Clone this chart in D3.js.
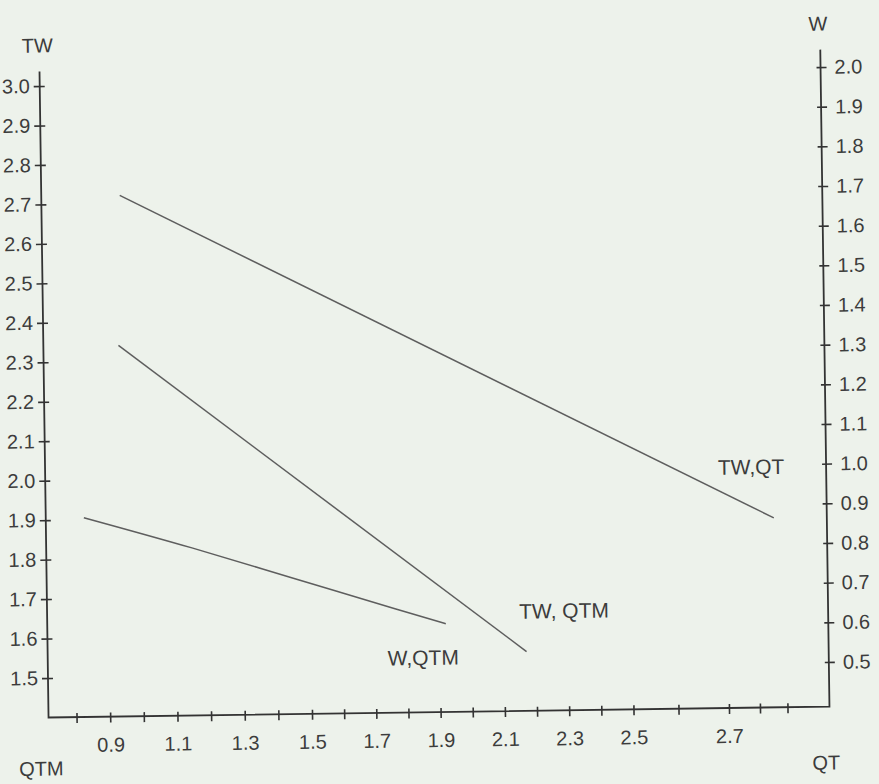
<!DOCTYPE html>
<html>
<head>
<meta charset="UTF-8">
<title>TW, W vs QT, QTM</title>
<style>
  html, body { margin: 0; padding: 0; background: #edf2eb; }
  svg { display: block; }
  text { font-family: "Liberation Sans", Arial, Helvetica, sans-serif; fill: #3c3c3c; }
</style>
</head>
<body>
<svg id="chart" width="879" height="784"></svg>
<script src="https://d3js.org/d3.v7.min.js"></script>
<script>
// bottom axis (QT / QTM) tick values and the ones that carry a label
const qtTicks = [0.8, 0.9, 1.0, 1.1, 1.2, 1.3, 1.4, 1.5, 1.6, 1.7, 1.8, 1.9, 2.0, 2.1, 2.2, 2.3, 2.4, 2.5, 2.6, 2.7, 2.8, 2.9];
const qtLabels = [0.9, 1.1, 1.3, 1.5, 1.7, 1.9, 2.1, 2.3, 2.5, 2.7];
// left axis TW, right axis W
const twTicks = [1.5, 1.6, 1.7, 1.8, 1.9, 2.0, 2.1, 2.2, 2.3, 2.4, 2.5, 2.6, 2.7, 2.8, 2.9, 3.0];
const wTicks = [0.5, 0.6, 0.7, 0.8, 0.9, 1.0, 1.1, 1.2, 1.3, 1.4, 1.5, 1.6, 1.7, 1.8, 1.9, 2.0];

// series
const twQtX = [0.95, 2.86];
const twQtY = [2.72, 1.88];
const twQtmX = [0.94, 2.17];
const twQtmY = [2.34, 1.55];
const wQtmX = [0.83, 1.15, 1.45, 1.76, 1.92];
const wQtmY = [0.89, 0.81, 0.73, 0.65, 0.61];

const svg = d3.select("#chart");
const left = 44, right = 825, bottom = 712;

// the drawing is a slightly tilted scan
const g = svg.append("g").attr("transform", "rotate(-0.8, 438, 390)");

// hand drawn axis: spacing is not quite even past 2.5
const x = d3.scaleLinear()
  .domain([0.8, 1.5, 2.5, 2.6, 2.7, 2.8, 2.9])
  .range([72, 307.5, 629, 674, 724.5, 755.5, 783]);
const yTW = d3.scaleLinear().domain([1.4, 3.0]).range([bottom, 80.5]);
const yW = d3.scaleLinear().domain([0.5, 2.0]).range([667.4, 72.4]);
const fmt = d3.format(".1f");

// frame
g.append("path")
  .attr("d", `M${left},66 L${left},${bottom} L${right},${bottom} L${right},55`)
  .attr("fill", "none")
  .attr("stroke", "#333")
  .attr("stroke-width", 1.8);

const xAxis = g.append("g")
  .attr("transform", `translate(0,${bottom})`)
  .call(d3.axisBottom(x).tickValues(qtTicks)
    .tickFormat(d => qtLabels.includes(d) ? fmt(d) : ""));
xAxis.selectAll(".tick line").attr("y1", -4).attr("y2", 6);
xAxis.selectAll(".tick text").attr("y", 35).attr("dy", 0);

const yAxisL = g.append("g")
  .attr("transform", `translate(${left},0)`)
  .call(d3.axisLeft(yTW).tickValues(twTicks).tickFormat(fmt));
yAxisL.selectAll(".tick line").attr("x1", -6).attr("x2", 5);
yAxisL.selectAll(".tick text").attr("x", -10);

const yAxisR = g.append("g")
  .attr("transform", `translate(${right},0)`)
  .call(d3.axisRight(yW).tickValues(wTicks).tickFormat(fmt));
yAxisR.selectAll(".tick line").attr("x1", -4).attr("x2", 6);
yAxisR.selectAll(".tick text").attr("x", 14);

g.selectAll(".domain").remove();
g.selectAll(".tick line").attr("stroke", "#333").attr("stroke-width", 1.6);
g.selectAll(".tick text")
  .attr("font-family", null)
  .attr("font-size", 20)
  .attr("fill", "#3c3c3c");

// series
const lineTW = d3.line().x(d => x(d[0])).y(d => yTW(d[1]));
const lineW = d3.line().x(d => x(d[0])).y(d => yW(d[1])).curve(d3.curveMonotoneX);

const series = [
  { name: "TW,QT", pts: d3.zip(twQtX, twQtY), line: lineTW, y: yTW, dx: -22, dy: -44 },
  { name: "TW, QTM", pts: d3.zip(twQtmX, twQtmY), line: lineTW, y: yTW, dx: 38, dy: -33 },
  { name: "W,QTM", pts: d3.zip(wQtmX, wQtmY), line: lineW, y: yW, dx: -23, dy: 41 }
];

series.forEach(s => {
  g.append("path")
    .attr("d", s.line(s.pts))
    .attr("fill", "none")
    .attr("stroke", "#5e5e5e")
    .attr("stroke-width", 1.5);
  const end = s.pts[s.pts.length - 1];
  g.append("text")
    .attr("x", x(end[0]) + s.dx)
    .attr("y", s.y(end[1]) + s.dy)
    .attr("text-anchor", "middle")
    .attr("font-size", 21)
    .text(s.name);
});

// axis titles
const titles = [
  { t: "TW", x: left - 2, y: 47 },
  { t: "W", x: right - 2, y: 36 },
  { t: "QTM", x: 36, y: 770 },
  { t: "QT", x: 821, y: 775 }
];
g.selectAll(".title")
  .data(titles)
  .enter().append("text")
  .attr("class", "title")
  .attr("x", d => d.x)
  .attr("y", d => d.y)
  .attr("text-anchor", "middle")
  .attr("font-size", 20)
  .text(d => d.t);
</script>
</body>
</html>
